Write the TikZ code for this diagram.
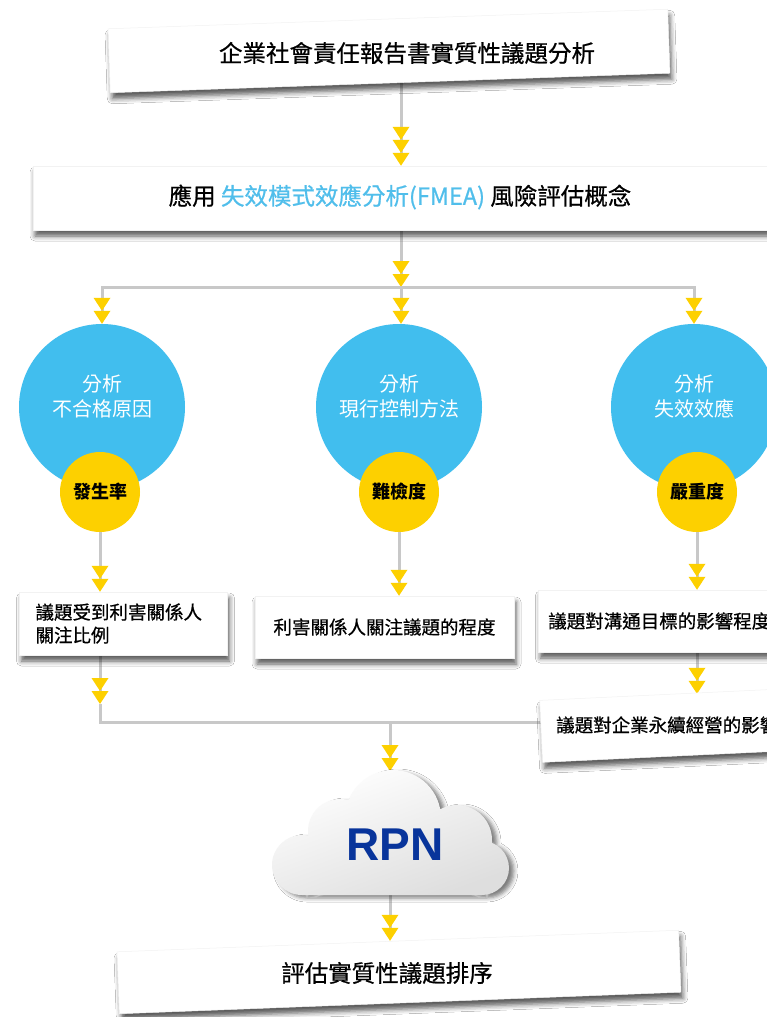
\documentclass[tikz,border=0pt]{standalone}
\usepackage{fontspec}
\setmainfont{Noto Sans CJK TC}
\newfontfamily\medfont[FakeBold=0.7]{Noto Sans CJK TC}
\newfontfamily\rpnfont{Liberation Sans}
\usetikzlibrary{arrows.meta,shadows.blur,backgrounds}

\definecolor{circblue}{RGB}{65,190,238}
\definecolor{tipyellow}{RGB}{253,208,0}
\definecolor{linegray}{RGB}{200,200,200}
\definecolor{fmeablue}{RGB}{80,190,235}
\definecolor{rpnblue}{RGB}{8,52,155}

\begin{document}
\begin{tikzpicture}[x=1pt, y=1pt,
    ytri/.tip={Triangle[width=17pt, length=13pt, color=tipyellow, line width=0pt]},
    link/.style={draw=linegray, line width=3pt},
    dtip/.style={-{ytri[]ytri[]}},
    ttip/.style={-{ytri[]ytri[]ytri[]}},
    paper/.style={fill=white, draw=black!5, line width=0.5pt,
        blur shadow={shadow xshift=2pt, shadow yshift=-6pt, shadow blur radius=5pt, shadow opacity=65}},
    bigcirc/.style={circle, fill=circblue, minimum size=166pt, inner sep=0pt},
    smallcirc/.style={circle, fill=tipyellow, minimum size=80pt, inner sep=0pt,
        font=\bfseries\fontsize{18}{22}\selectfont},
    circtext/.style={text=white, align=center, font=\fontsize{20}{25}\selectfont},
    titletext/.style={font=\medfont\fontsize{23.5}{28}\selectfont},
    boxtext/.style={font=\medfont\fontsize{18.5}{23}\selectfont}]

    \useasboundingbox (0,0) rectangle (767,-1017);
    \clip (0,0) rectangle (767,-1017);

    % 箱
    \node[paper, minimum width=560pt, minimum height=64pt, rotate=2] (topbox) at (389,-51) {};
    \node[titletext] (toptext) at (407,-53) {企業社會責任報告書實質性議題分析};

    \node[paper, minimum width=780pt, minimum height=64pt] (fmea) at (423,-198) {};
    \node[titletext] (fmeatext) at (400,-197) {應用 \textcolor{fmeablue}{失效模式效應分析(FMEA)} 風險評估概念};

    % 円
    \node[bigcirc] (cause) at (102,-407) {};
    \node[bigcirc] (ctrl) at (399,-407) {};
    \node[bigcirc] (effect) at (694,-407) {};
    \node[circtext] (causetext) at (102,-396) {分析\\不合格原因};
    \node[circtext] (ctrltext) at (399,-396) {分析\\現行控制方法};
    \node[circtext] (effecttext) at (694,-396) {分析\\失效效應};
    \node[smallcirc] (occ) at (100,-492) {發生率};
    \node[smallcirc] (det) at (399,-492) {難檢度};
    \node[smallcirc] (sev) at (697,-492) {嚴重度};

    \node[paper, text width=176pt, align=left, inner xsep=16pt, minimum height=63pt, boxtext] (lbox) at (123.5,-623.5) {議題受到利害關係人\\關注比例};
    \node[paper, minimum width=259pt, minimum height=62pt, boxtext] (mbox) at (384.5,-627) {利害關係人關注議題的程度};
    \node[paper, anchor=west, text width=242pt, align=left, inner xsep=10pt, minimum height=62pt, boxtext] (rbox) at (538,-621) {議題對溝通目標的影響程度};

    \node[paper, minimum width=270pt, minimum height=62pt, rotate=2.7] (sust) at (676,-725) {};
    \node[boxtext, anchor=west, inner sep=0pt] (susttext) at (556,-725) {議題對企業永續經營的影響程度};

    % 雲
    \shade[top color=white, bottom color=black!13, shading angle=20,
        blur shadow={shadow xshift=5pt, shadow yshift=-3pt, shadow blur radius=4pt, shadow opacity=50}]
        (302,-865) circle (30) (340,-831) circle (32) (393,-818) circle (48)
        (457,-840) circle (35) (482,-868) circle (27)
        (302,-895) -- (482,-895) -- (482,-840) -- (302,-840) -- cycle;
    \node[font=\rpnfont\bfseries\fontsize{46}{50}\selectfont, text=rpnblue] (rpn) at (395,-845) {RPN};
    \coordinate (cloudtop) at (390,-771);
    \coordinate (cloudbot) at (390,-890);

    \node[paper, minimum width=562pt, minimum height=62pt, rotate=2.2] (rank) at (399,-972) {};
    \node[titletext] (ranktext) at (387,-973) {評估實質性議題排序};

    \coordinate (split) at (401,-287);
    \coordinate (lmid) at (100,-704);
    \coordinate (merge) at (390,-722);
    \coordinate (mergeR) at (545,-722);

    % エッジを引く
    \begin{pgfonlayer}{background}
        \fill[white] (0,0) rectangle (767,-1017);
        \draw[link, ttip] (split |- topbox.center) -- (split |- fmea.north);
        \draw[link, dtip] (split |- fmea.center) -- (split);
        \draw[link, dtip] (split) -| (cause);
        \draw[link, dtip] (split) -- (split |- ctrl.north);
        \draw[link, dtip] (split) -| (effect);
        \draw[link, dtip] (occ) -- (occ |- lbox.north);
        \draw[link, dtip] (det) -- (det |- mbox.north);
        \draw[link, dtip] (sev) -- (sev |- rbox.north);
        \draw[link, dtip] (sev |- rbox.center) -- (sev |- sust.north);
        \draw[link, dtip] (lmid |- lbox.center) -- (lmid);
        \draw[link] (lmid) |- (mergeR);
        \draw[link, dtip] (merge) -- (cloudtop);
        \draw[link, dtip] (cloudbot) -- (cloudbot |- rank.north);
    \end{pgfonlayer}
\end{tikzpicture}
\end{document}
